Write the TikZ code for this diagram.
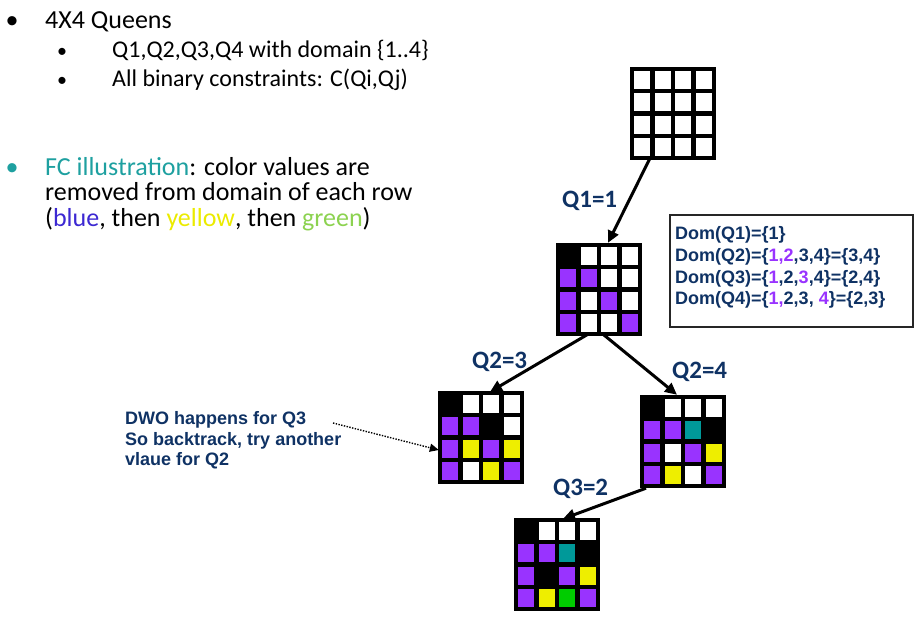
\documentclass[tikz,border=0pt]{standalone}
\usepackage{fontspec}
\setmainfont{Carlito}
\newfontfamily\arialf{Liberation Sans}
\usetikzlibrary{arrows.meta}
\definecolor{navy}{RGB}{15,50,100}
\definecolor{cW}{RGB}{255,255,255}
\definecolor{cB}{RGB}{0,0,0}
\definecolor{cP}{RGB}{153,51,255}
\definecolor{cY}{RGB}{238,238,0}
\definecolor{cT}{RGB}{0,153,153}
\definecolor{cG}{RGB}{0,204,0}
\definecolor{fcteal}{RGB}{30,160,160}
\definecolor{fcblue}{RGB}{60,40,210}
\definecolor{fcyellow}{RGB}{235,235,0}
\definecolor{fcgreen}{RGB}{140,210,80}
\newcommand{\pv}[1]{\textcolor{cP}{#1}}
\newcommand{\qboard}[4]{%
  \node[boardnode] (#1) at (#2+41,#3+44.5) {};
  \foreach \col [count=\k from 0] in {#4} {
    \pgfmathtruncatemacro\rr{int(\k/4)}
    \pgfmathtruncatemacro\cc{mod(\k,4)}
    \filldraw[fill=\col, cellline] (#2+\cc*20.5,#3+\rr*22.25) rectangle ++(20.5,22.25);
  }
}
\begin{document}
\begin{tikzpicture}[x=1pt,y=-1pt,
  boardnode/.style={minimum width=82pt,minimum height=89pt,inner sep=0pt,draw=none},
  cellline/.style={draw=black,line width=4.3pt},
  main/.style={anchor=base west,inner sep=0pt,font=\fontsize{26}{30}\selectfont},
  sub/.style={anchor=base west,inner sep=0pt,font=\fontsize{24}{28}\selectfont},
  qlab/.style={anchor=base west,inner sep=0pt,text=navy,font=\bfseries\fontsize{25}{30}\selectfont},
  domtxt/.style={anchor=base west,inner sep=0pt,text=navy,font=\arialf\bfseries\fontsize{18}{21}\selectfont},
  conn/.style={line width=3pt,-{Triangle[length=12pt,width=11pt]}},
  dotconn/.style={line width=1.4pt,dash pattern=on 1.4pt off 1.4pt,-{Triangle[length=9pt,width=8pt]}}
]
\useasboundingbox (0,0) rectangle (918,616);

% left texts
\node[main,anchor=base] (bul1) at (12,28) {\textbullet};
\node[main] (t1) at (45,28) {4X4 Queens};
\node[sub,anchor=base,font=\fontsize{20}{24}\selectfont] (bul2) at (62,57.5) {\textbullet};
\node[sub] (t2) at (112,57.5) {Q1,Q2,Q3,Q4 with domain \{1..4\}};
\node[sub,anchor=base,font=\fontsize{20}{24}\selectfont] (bul3) at (62,86) {\textbullet};
\node[sub] (t3) at (112,86) {All binary constraints: C(Qi,Qj)};

\node[main,anchor=base,text=fcteal] (bul4) at (12,175) {\textbullet};
\node[main] (f1) at (45,175) {\textcolor{fcteal}{FC illustration}: color values are};
\node[main] (f2) at (45,200.5) {removed from domain of each row};
\node[main] (f3) at (45,226) {(\textcolor{fcblue}{blue}, then \textcolor{fcyellow}{yellow}, then \textcolor{fcgreen}{green})};

% boards
\qboard{b1}{632}{69}{cW,cW,cW,cW, cW,cW,cW,cW, cW,cW,cW,cW, cW,cW,cW,cW}
\qboard{b2}{558}{245}{cB,cW,cW,cW, cP,cP,cW,cW, cP,cW,cP,cW, cP,cW,cW,cP}
\qboard{b3}{440}{393}{cB,cW,cW,cW, cP,cP,cB,cW, cP,cY,cP,cY, cP,cW,cY,cP}
\qboard{b4}{642}{397}{cB,cW,cW,cW, cP,cP,cT,cB, cP,cW,cP,cY, cP,cY,cW,cP}
\qboard{b5}{516}{520}{cB,cW,cW,cW, cP,cP,cT,cB, cP,cB,cP,cY, cP,cY,cG,cP}

% labels
\node[qlab] (l1) at (562,207) {Q1=1};
\node[qlab] (l2) at (472,368) {Q2=3};
\node[qlab] (l3) at (672,378) {Q2=4};
\node[qlab] (l4) at (553,495) {Q3=2};

% connectors
\draw[conn] ([xshift=-23pt]b1.south) -- ([xshift=9pt,yshift=2pt]b2.north);
\draw[conn] ([xshift=-11pt]b2.south) -- ([xshift=9pt,yshift=1pt]b3.north);
\draw[conn] ([xshift=4pt]b2.south) -- ([xshift=-6pt,yshift=2pt]b4.north);
\draw[conn] ([xshift=-37pt,yshift=-2pt]b4.south) -- ([xshift=6pt,yshift=1pt]b5.north);

% Dom box
\node[draw=black!85,line width=1.4pt,minimum width=243pt,minimum height=112pt,inner sep=0pt] (dombox) at (791.5,271) {};
\node[domtxt] (d1) at (675,239) {Dom(Q1)=\{1\}};
\node[domtxt] (d2) at (675,261) {Dom(Q2)=\{\pv{1,2},3,4\}=\{3,4\}};
\node[domtxt] (d3) at (675,283) {Dom(Q3)=\{\pv{1},2,\pv{3},4\}=\{2,4\}};
\node[domtxt] (d4) at (675,304.5) {Dom(Q4)=\{\pv{1,}2,3, \pv{4}\}=\{2,3\}};

% DWO note
\node[domtxt] (w1) at (125,424) {DWO happens for Q3};
\node[domtxt] (w2) at (125,445) {So backtrack, try another};
\node[domtxt] (w3) at (125,465) {vlaue for Q2};
\coordinate (dwoend) at (333,423);
\draw[dotconn] (dwoend) -- ([xshift=-1pt,yshift=-12.5pt]b3.west);
\end{tikzpicture}
\end{document}
